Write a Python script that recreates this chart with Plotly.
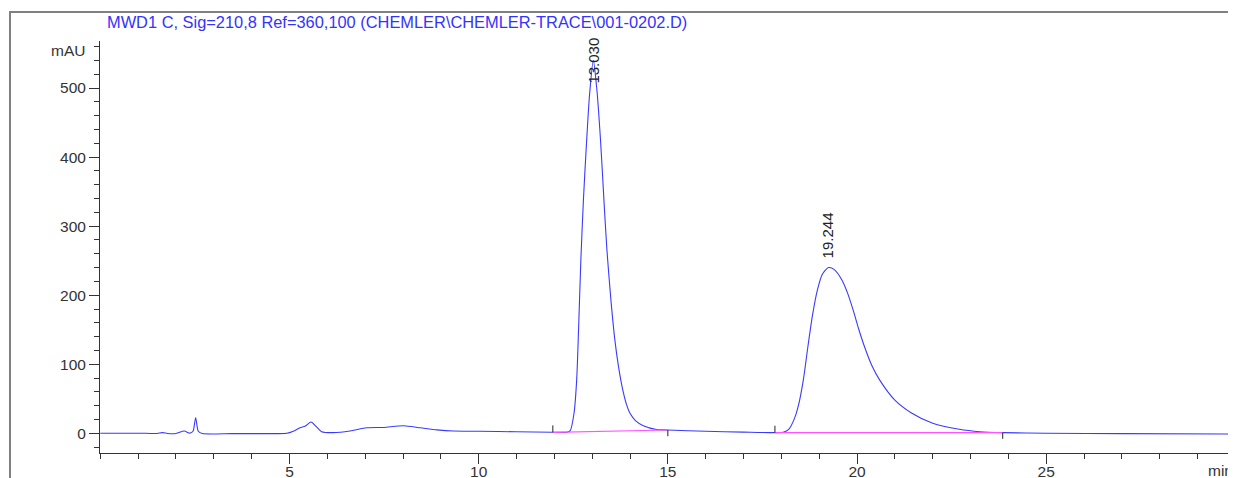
import plotly.graph_objects as go

# ---- Data ----
time_min = [0.0, 1.2, 1.5, 1.64, 1.78, 2.0, 2.22, 2.36, 2.45, 2.52, 2.59, 2.7, 3.5, 4.5, 4.93,
            5.1, 5.28, 5.42, 5.57, 5.7, 5.85, 6.15, 6.6, 7.04, 7.48, 8.01, 8.46, 8.9, 9.33, 10.0,
            11.0, 11.96, 12.2, 12.33, 12.42, 12.52, 12.59, 12.64, 12.70, 12.77, 12.85, 12.93,
            13.03, 13.12, 13.22, 13.31, 13.39, 13.50, 13.60, 13.70, 13.80, 13.90, 14.0, 14.15,
            14.35, 14.7, 15.0, 16.0, 17.0, 17.83, 18.05, 18.2, 18.35, 18.45, 18.58, 18.70,
            18.82, 18.95, 19.08, 19.244, 19.4, 19.6, 19.75, 19.9, 20.05, 20.2, 20.4, 20.6, 21.0,
            21.45, 22.0, 22.7, 23.25, 23.85, 25.0, 27.0, 29.92]
signal_mau = [0.0, 0.0, -0.3, 1.0, -0.2, -0.3, 3.3, 0.3, 3.0, 22.6, 3.0, -0.3, -0.4, -0.4, 0.0,
              3.0, 8.0, 10.5, 16.4, 10.0, 2.3, 1.0, 3.3, 8.0, 8.5, 11.0, 8.0, 5.0, 3.3, 3.0,
              2.2, 1.5, 1.4, 1.5, 4.0, 29.0, 77.0, 150.0, 250.0, 340.0, 420.0, 490.0,
              540.0, 500.0, 425.0, 338.0, 265.0, 190.0, 135.0, 95.0, 65.0, 43.0, 29.0, 18.0,
              11.0, 5.5, 4.8, 3.0, 1.8, 1.0, 1.5, 6.0, 22.0, 40.0, 77.0, 125.0,
              170.0, 207.0, 230.0, 240.0, 237.0, 222.0, 203.0, 178.0, 150.0, 125.0, 97.0, 77.0,
              48.0, 29.0, 14.5, 5.8, 2.3, 1.0, 0.0, -0.5, -1.0]

# integration baselines (start, end) and their levels
base_start_t = [11.96, 17.83]
base_start_v = [1.5, 1.0]
base_end_t = [15.0, 23.85]
base_end_v = [4.8, 1.0]

# peak labels
peak_rt = [13.030, 19.244]
peak_label = ["13.030", "19.244"]
label_y = [504, 251]

x_ticks = [5, 10, 15, 20, 25]
y_ticks = [0, 100, 200, 300, 400, 500]

title_text = "MWD1 C, Sig=210,8 Ref=360,100 (CHEMLER\\CHEMLER-TRACE\\001-0202.D)"

FONT = "Liberation Sans, Arial, sans-serif"

# page coordinates -> plot-area paper coordinates (plot area: x 100..1232, y 41..453)
def px(xp):
    return (xp - 100) / 1132


def py(yp):
    return (453 - yp) / 412


fig = go.Figure()

fig.add_trace(go.Scatter(
    x=time_min, y=signal_mau, mode="lines",
    line=dict(color="#3a3aff", width=1.1, shape="spline", smoothing=0.7),
    hoverinfo="skip", showlegend=False))

# baselines (magenta)
bx, by = [], []
for s, sv, e, ev in zip(base_start_t, base_start_v, base_end_t, base_end_v):
    bx += [s, e, None]
    by += [sv, ev, None]
fig.add_trace(go.Scatter(x=bx, y=by, mode="lines",
                         line=dict(color="#ff55ff", width=1.2),
                         hoverinfo="skip", showlegend=False))

# integration event markers (start = up, end = down)
mx, my = [], []
for s, sv in zip(base_start_t, base_start_v):
    mx += [s, s, None]
    my += [sv, sv + 10, None]
for e, ev in zip(base_end_t, base_end_v):
    mx += [e, e, None]
    my += [ev, ev - 9, None]
fig.add_trace(go.Scatter(x=mx, y=my, mode="lines",
                         line=dict(color="#222222", width=1),
                         hoverinfo="skip", showlegend=False))

for rt, lab, ly in zip(peak_rt, peak_label, label_y):
    fig.add_annotation(x=rt, y=ly, xref="x", yref="y", text=lab, textangle=-90,
                       showarrow=False, yanchor="bottom", xanchor="center",
                       font=dict(family=FONT, size=15, color="#222222"))

# title
fig.add_annotation(x=px(105), y=py(22), xref="paper", yref="paper",
                   text=title_text, showarrow=False, xanchor="left", yanchor="middle",
                   font=dict(family=FONT, size=16.4, color="#3333ff"))
# y unit
fig.add_annotation(x=px(87), y=py(50), xref="paper", yref="paper",
                   text="mAU", showarrow=False, xanchor="right", yanchor="middle",
                   font=dict(family=FONT, size=15.5, color="#333333"))
# x unit
fig.add_annotation(x=px(1206), y=py(470), xref="paper", yref="paper",
                   text="min", showarrow=False, xanchor="left", yanchor="middle",
                   font=dict(family=FONT, size=15.5, color="#333333"))

# outer frame
fig.add_shape(type="rect", xref="paper", yref="paper",
              x0=px(10), x1=px(1232.5), y0=-0.3, y1=py(12),
              line=dict(color="#808080", width=2), layer="above")

fig.update_xaxes(range=[-0.008, 29.91], tickvals=x_ticks, ticks="outside", ticklen=10,
                 tickcolor="#333333", showline=True, linecolor="#333333", linewidth=1,
                 showgrid=False, zeroline=False, automargin=False, ticklabelstandoff=-6,
                 tickfont=dict(family=FONT, size=15.5, color="#333333"),
                 minor=dict(dtick=1, tick0=0, ticks="outside", ticklen=5, tickcolor="#333333",
                            showgrid=False))
fig.update_yaxes(range=[-28.5, 568.1], tickvals=y_ticks, ticks="outside", ticklen=10,
                 tickcolor="#333333", showline=True, linecolor="#333333", linewidth=1,
                 showgrid=False, zeroline=False, automargin=False,
                 tickfont=dict(family=FONT, size=15.5, color="#333333"),
                 minor=dict(dtick=20, tick0=0, ticks="outside", ticklen=5, tickcolor="#333333",
                            showgrid=False))

# the page body has an 8px margin, so the figure is drawn 8px in from the page corner
fig.update_layout(width=1228, height=470, margin=dict(l=92, r=4, t=33, b=25),
                  plot_bgcolor="white", paper_bgcolor="white", showlegend=False)

fig.write_html("out.html")
